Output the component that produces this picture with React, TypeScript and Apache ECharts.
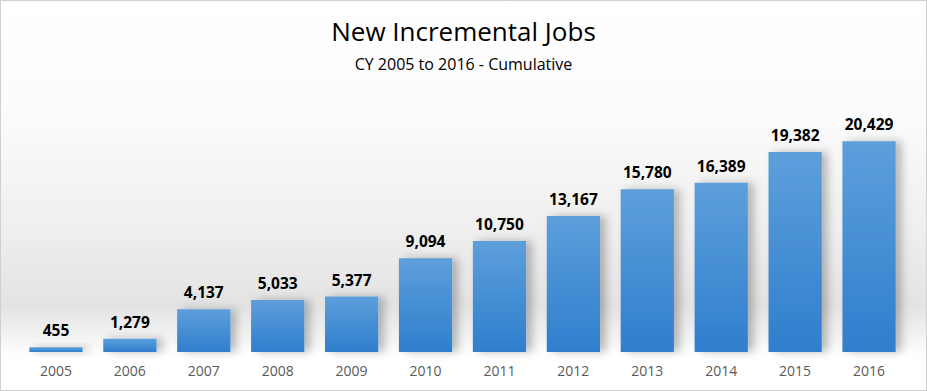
import React, { useEffect, useRef } from "react";
import * as echarts from "echarts";

const years = ["2005", "2006", "2007", "2008", "2009", "2010", "2011", "2012", "2013", "2014", "2015", "2016"];
const jobs = [455, 1279, 4137, 5033, 5377, 9094, 10750, 13167, 15780, 16389, 19382, 20429];

const titleText = "New Incremental Jobs";
const subtitleText = "CY 2005 to 2016 - Cumulative";

export default function App() {
  const ref = useRef<HTMLDivElement>(null);
  useEffect(() => {
    document.body.style.margin = "0";
    const chart = echarts.init(ref.current!, null, { renderer: "svg" });
    chart.setOption({
      animation: false,
      backgroundColor: "#ffffff",
      graphic: [
        {
          type: "rect",
          z: -10,
          silent: true,
          shape: { x: 0, y: 0, width: 927, height: 391 },
          style: {
            fill: new echarts.graphic.LinearGradient(0, 0, 0, 1, [
              { offset: 0, color: "#ffffff" },
              { offset: 0.3, color: "#fbfbfb" },
              { offset: 0.6, color: "#eeeeee" },
              { offset: 0.78, color: "#e3e3e3" },
              { offset: 0.86, color: "#f2f2f2" },
              { offset: 0.91, color: "#ffffff" },
              { offset: 1, color: "#ffffff" },
            ]),
            stroke: "#d0d0d0",
            lineWidth: 2,
          },
        },
      ],
      title: [
        {
          text: titleText,
          left: "center",
          top: 13,
          textStyle: { fontFamily: "Open Sans", fontSize: 26, fontWeight: "normal", color: "#000000" },
        },
        {
          text: subtitleText,
          left: "center",
          top: 51,
          textStyle: { fontFamily: "Open Sans", fontSize: 16, fontWeight: "normal", color: "#000000" },
        },
      ],
      grid: { left: 19, right: 21, top: 94, bottom: 39, containLabel: false },
      xAxis: {
        type: "category",
        data: years,
        axisLine: { show: false },
        axisTick: { show: false },
        axisLabel: { fontFamily: "Open Sans", fontSize: 14, color: "#595959", margin: 11 },
      },
      yAxis: {
        type: "value",
        min: 0,
        max: 25000,
        show: false,
        splitLine: { show: false },
      },
      series: [
        {
          type: "bar",
          data: jobs,
          barCategoryGap: "28%",
          itemStyle: {
            color: new echarts.graphic.LinearGradient(0, 0, 0, 1, [
              { offset: 0, color: "#5d9fdb" },
              { offset: 1, color: "#2f7ecd" },
            ]),
            shadowColor: "rgba(0,0,0,0.25)",
            shadowBlur: 8,
            shadowOffsetX: 6,
            shadowOffsetY: 0,
          },
          label: {
            show: true,
            position: "top",
            distance: 9,
            fontFamily: "Open Sans",
            fontWeight: "bold",
            fontSize: 15.5,
            color: "#000000",
            formatter: (p: any) => p.value.toLocaleString("en-US"),
          },
        },
      ],
    });
    return () => chart.dispose();
  }, []);
  return <div ref={ref} style={{ width: 927, height: 391 }} />;
}
